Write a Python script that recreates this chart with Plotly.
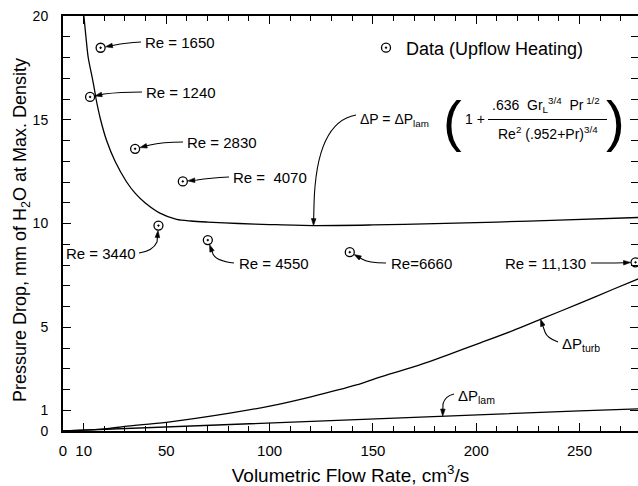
import numpy as np
import plotly.graph_objects as go

# ---------------- data ----------------
flow_comb = [10.0, 11.1, 12.2, 14.2, 15.2, 16.0, 18.2, 21.1, 25.2, 30.8, 35.0, 39.7,
             46.9, 55.0, 62.0, 70.0, 85.0, 100.0, 121.0, 150.0, 180.0, 210.0, 240.0, 278.5]
dp_comb = [20.1, 19.0, 18.0, 17.0, 16.47, 16.0, 15.0, 14.0, 13.0, 12.0, 11.45, 11.0,
           10.5, 10.2, 10.12, 10.07, 10.0, 9.95, 9.9, 9.93, 9.99, 10.07, 10.16, 10.29]

flow_turb = [0, 20, 30, 50, 80, 100, 120, 142, 153, 170, 186, 202, 218, 231, 250, 266, 278.5]
dp_turb = [0, 0.1, 0.22, 0.42, 0.85, 1.2, 1.65, 2.22, 2.59, 3.1, 3.66, 4.25, 4.85, 5.38, 6.15, 6.82, 7.33]

flow_lam = [0, 50, 100, 150, 200, 250, 278.5]
dp_lam = [0, 0.2, 0.4, 0.59, 0.78, 0.97, 1.07]

re_labels = ["Re = 1650", "Re = 1240", "Re = 2830", "Re =  4070",
             "Re = 3440", "Re = 4550", "Re=6660", "Re = 11,130"]
flow_data = [18.2, 13.1, 34.9, 58.0, 46.2, 70.1, 138.8, 277.1]
dp_data = [18.47, 16.1, 13.6, 12.03, 9.9, 9.2, 8.62, 8.13]

x_tickvals = [0, 10, 50, 100, 150, 200, 250]
x_ticktext = ["0", "10", "50", "100", "150", "200", "250"]
y_tickvals = [0, 1, 5, 10, 15, 20]
y_ticktext = ["0", "1", "5", "10", "15", "20"]

# ---------------- layout geometry ----------------
W, H = 638, 486
ML, MR, MT, MB = 63, 0, 16, 55
XMAX, YMAX = 278.3, 20
FONT = "Liberation Sans"
PW, PH = W - ML - MR, H - MB - MT


def dx(px):
    return (px - ML) / PW * XMAX


def dy(py):
    return (H - MB - py) / PH * YMAX


def to_px(x, y):
    return ML + x / XMAX * PW, H - MB - y / YMAX * PH


fig = go.Figure()
line = dict(color="black", width=1.3)
fig.add_trace(go.Scatter(x=flow_comb, y=dp_comb, mode="lines", line=dict(shape="spline", smoothing=0.8, **line),
                         showlegend=False, hoverinfo="skip"))
fig.add_trace(go.Scatter(x=flow_turb, y=dp_turb, mode="lines", line=dict(shape="spline", smoothing=0.8, **line),
                         showlegend=False, hoverinfo="skip"))
fig.add_trace(go.Scatter(x=flow_lam, y=dp_lam, mode="lines", line=line, showlegend=False, hoverinfo="skip"))
fig.add_trace(go.Scatter(x=flow_data, y=dp_data, mode="markers", name="Data (Upflow Heating)",
                         marker=dict(symbol="circle-open-dot", size=9, color="black", line=dict(width=1.3, color="black")),
                         cliponaxis=False, hoverinfo="skip"))

shapes = []
annotations = []


def curved_arrow(p0, c, p1, target, standoff, head=7.0, half=2.3):
    """p0, c, p1 in pixels; target in data units; arrowhead ends `standoff` px before target."""
    tx, ty = to_px(*target)
    vx, vy = tx - p1[0], ty - p1[1]
    n = (vx * vx + vy * vy) ** 0.5
    ux, uy = vx / n, vy / n
    tipx, tipy = tx - standoff * ux, ty - standoff * uy
    bx, by = tipx - head * ux, tipy - head * uy
    shapes.append(dict(type="path", xref="x", yref="y",
                       path=(f"M {dx(p0[0])},{dy(p0[1])} Q {dx(c[0])},{dy(c[1])} {dx(p1[0])},{dy(p1[1])} "
                             f"L {dx(bx + ux)},{dy(by + uy)}"),
                       line=dict(color="black", width=1.1)))
    nx, ny = -uy, ux
    shapes.append(dict(type="path", xref="x", yref="y",
                       path=(f"M {dx(tipx)},{dy(tipy)} L {dx(bx + half * nx)},{dy(by + half * ny)} "
                             f"L {dx(bx - half * nx)},{dy(by - half * ny)} Z"),
                       fillcolor="black", line=dict(color="black", width=0.6)))


# Re labels: (text anchor px, anchor side, arrow tail, control, arrow end)
label_geo = [
    ((143, 42), "left", (141, 42), (125, 43), (115, 45)),
    ((144, 92), "left", (142, 92), (120, 92), (104, 94)),
    ((185, 142), "left", (183, 142), (162, 142), (150, 145)),
    ((231, 177), "left", (229, 177), (210, 178), (197, 180)),
    ((138, 253), "right", (139, 253), (153, 251), (157, 242)),
    ((237, 263), "left", (234, 263), (216, 261), (213, 254)),
    ((389, 263), "left", (386, 263), (368, 263), (362, 259)),
    ((588, 263), "right", (591, 263), (605, 263), (615, 263)),
]
for lab, fx, fy, (tp, side, p0, c, p1) in zip(re_labels, flow_data, dp_data, label_geo):
    annotations.append(dict(x=dx(tp[0]), y=dy(tp[1]), xref="x", yref="y", text=lab, showarrow=False,
                            xanchor=side, yanchor="middle", font=dict(size=15)))
    curved_arrow(p0, c, p1, (fx, fy), 5)

# curve labels
x_tip = dx(313.5)
curved_arrow((356, 115), (316, 122), (314, 205), (x_tip, float(np.interp(x_tip, flow_comb, dp_comb))), 0)
x_tip = dx(540.5)
curved_arrow((558, 342), (547, 338), (545, 332), (x_tip, float(np.interp(x_tip, flow_turb, dp_turb))), 0)
x_tip = dx(442.7)
curved_arrow((454, 394), (445, 396), (443, 404), (x_tip, float(np.interp(x_tip, flow_lam, dp_lam))), 0)

annotations.append(dict(x=dx(560), y=dy(344), xref="x", yref="y", text="ΔP<sub>turb</sub>", showarrow=False,
                        xanchor="left", yanchor="middle", font=dict(size=15)))
annotations.append(dict(x=dx(456), y=dy(396), xref="x", yref="y", text="ΔP<sub>lam</sub>", showarrow=False,
                        xanchor="left", yanchor="middle", font=dict(size=15)))

# formula
annotations.append(dict(x=dx(358), y=dy(120), xref="x", yref="y", text="ΔP = ΔP<sub>lam</sub>", showarrow=False,
                        xanchor="left", yanchor="middle", font=dict(size=14)))
annotations.append(dict(x=dx(452.5), y=dy(120), xref="x", yref="y", text="(", showarrow=False,
                        xanchor="center", yanchor="middle", font=dict(size=56)))
annotations.append(dict(x=dx(615), y=dy(120), xref="x", yref="y", text=")", showarrow=False,
                        xanchor="center", yanchor="middle", font=dict(size=56)))
annotations.append(dict(x=dx(475), y=dy(119), xref="x", yref="y", text="1 +", showarrow=False,
                        xanchor="center", yanchor="middle", font=dict(size=14)))
annotations.append(dict(x=dx(546), y=dy(117), xref="x", yref="y",
                        text=".636  Gr<sub>L</sub><sup>3/4</sup>  Pr<sup> 1/2</sup>", showarrow=False,
                        xanchor="center", yanchor="bottom", font=dict(size=14)))
annotations.append(dict(x=dx(548), y=dy(122), xref="x", yref="y",
                        text="Re<sup>2</sup> (.952+Pr)<sup>3/4</sup>", showarrow=False,
                        xanchor="center", yanchor="top", font=dict(size=14)))
shapes.append(dict(type="line", xref="x", yref="y", x0=dx(488), x1=dx(607), y0=dy(119.5), y1=dy(119.5),
                   line=dict(color="black", width=1.2)))

# y axis title (as rotated text, positioned like the reference)
annotations.append(dict(x=(22 - ML) / PW, y=(H - MB - 230) / PH, xref="paper", yref="paper",
                        text="Pressure Drop, mm of H<sub>2</sub>O at Max. Density", textangle=-90,
                        showarrow=False, xanchor="center", yanchor="middle", font=dict(size=18)))

fig.update_layout(
    width=W, height=H, margin=dict(l=ML, r=MR, t=MT, b=MB),
    paper_bgcolor="white", plot_bgcolor="white",
    font=dict(family=FONT, color="black", size=15),
    shapes=shapes, annotations=annotations,
    showlegend=True,
    legend=dict(x=(366 - ML) / PW, y=dy(48) / YMAX, xanchor="left", yanchor="middle",
                bgcolor="rgba(0,0,0,0)", font=dict(size=18), borderwidth=0),
)
fig.update_xaxes(range=[0, XMAX], showline=True, linewidth=2, linecolor="black", mirror="allticks",
                 ticks="inside", ticklen=8, tickwidth=1.3, tickcolor="black",
                 tickmode="array", tickvals=x_tickvals, ticktext=x_ticktext,
                 minor=dict(tickmode="linear", tick0=0, dtick=10, ticks="inside", ticklen=5, tickwidth=1,
                            tickcolor="black"),
                 showgrid=False, zeroline=False, tickfont=dict(size=15), ticklabelstandoff=5,
                 title=dict(text="Volumetric Flow Rate, cm<sup>3</sup>/s", font=dict(size=19), standoff=14),
                 automargin=False)
fig.update_yaxes(range=[0, YMAX], showline=True, linewidth=2, linecolor="black", mirror="allticks",
                 ticks="inside", ticklen=8, tickwidth=1.3, tickcolor="black",
                 tickmode="array", tickvals=y_tickvals, ticktext=y_ticktext,
                 minor=dict(tickmode="linear", tick0=0, dtick=1, ticks="inside", ticklen=7, tickwidth=1,
                            tickcolor="black"),
                 showgrid=False, zeroline=False, tickfont=dict(size=14), ticklabelstandoff=10,
                 automargin=False)

fig.write_html("out.html", config={"displayModeBar": False},
               post_script="document.body.style.margin='0';document.body.style.overflow='hidden';")
